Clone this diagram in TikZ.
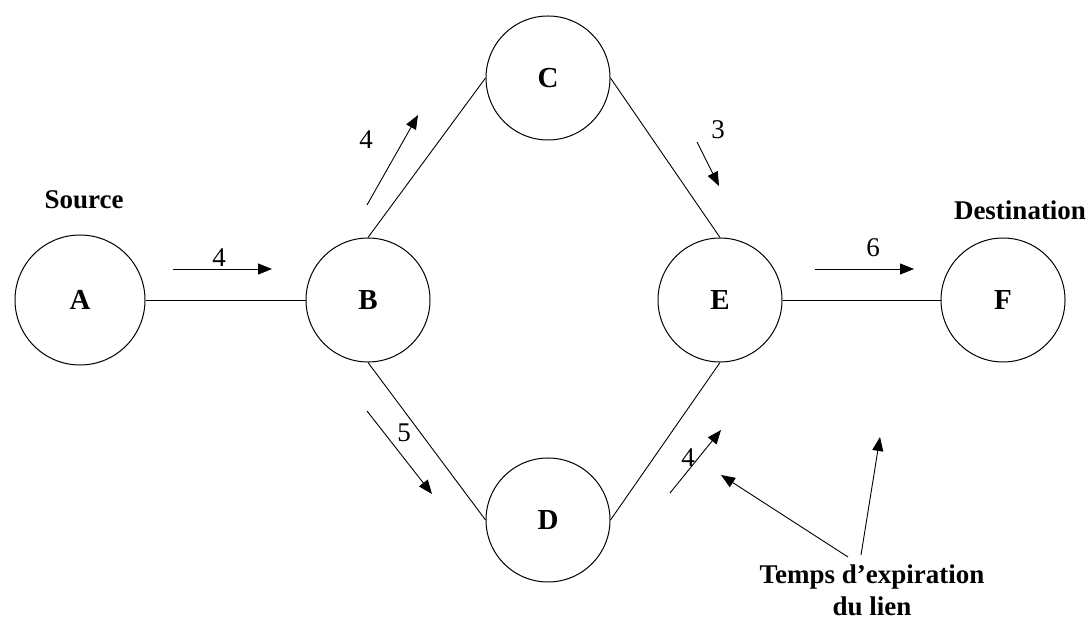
\documentclass[tikz,border=0pt]{standalone}
\usepackage{fontspec}
\setmainfont{Liberation Serif}
\usetikzlibrary{arrows.meta}
\begin{document}
\begin{tikzpicture}[x=0.5pt,y=-0.5pt,
  vertex/.style={circle,draw,line width=0.5pt,minimum size=62pt,inner sep=0pt,font=\fontsize{14.5}{17}\selectfont\bfseries},
  edge/.style={line width=0.45pt},
  flow/.style={line width=0.45pt,-{Triangle[length=7pt,width=5.5pt]}},
  num/.style={font=\fontsize{13.5}{15}\selectfont},
  lab/.style={font=\fontsize{13.5}{16}\selectfont\bfseries}]
\useasboundingbox (0,0) rectangle (1092,619);
\node[vertex,minimum size=65pt] (A) at (80,300) {A};
\node[vertex] (B) at (368,300) {B};
\node[vertex] (C) at (548,78) {C};
\node[vertex] (D) at (548,520) {D};
\node[vertex] (E) at (720,300) {E};
\node[vertex] (F) at (1003,300) {F};
\draw[edge] (A.east) -- (B.west);
\draw[edge] (B.north) -- (C.west);
\draw[edge] (C.east) -- (E.north);
\draw[edge] (B.south) -- (D.west);
\draw[edge] (D.east) -- (E.south);
\draw[edge] (E.east) -- (F.west);
\node[lab] (src) at (84,200) {Source};
\node[lab] (dst) at (1020,210) {Destination};
% flow arrows
\coordinate (ab1) at (173,269); \coordinate (ab2) at (272,269);
\draw[flow] (ab1) -- (ab2);
\node[num] (lab) at (219,258) {4};
\coordinate (bc1) at (367,205); \coordinate (bc2) at (418,115);
\draw[flow] (bc1) -- (bc2);
\node[num] (lbc) at (366,140) {4};
\coordinate (ce1) at (697,142); \coordinate (ce2) at (719,186);
\draw[flow] (ce1) -- (ce2);
\node[num] (lce) at (718,130) {3};
\coordinate (bd1) at (367,411); \coordinate (bd2) at (432,494);
\draw[flow] (bd1) -- (bd2);
\node[num] (lbd) at (404,433) {5};
\coordinate (de1) at (670,493); \coordinate (de2) at (721,430);
\draw[flow] (de1) -- (de2);
\node[num] (lde) at (688,458) {4};
\coordinate (ef1) at (815,269); \coordinate (ef2) at (914,269);
\draw[flow] (ef1) -- (ef2);
\node[num] (lef) at (873,248) {6};
% annotation
\node[lab,align=center] (note) at (872,590) {Temps d'expiration\\du lien};
\coordinate (n1) at (848,557); \coordinate (n2) at (721,475);
\coordinate (m1) at (861,555); \coordinate (m2) at (880,437);
\draw[flow] (n1) -- (n2);
\draw[flow] (m1) -- (m2);
\end{tikzpicture}
\end{document}
